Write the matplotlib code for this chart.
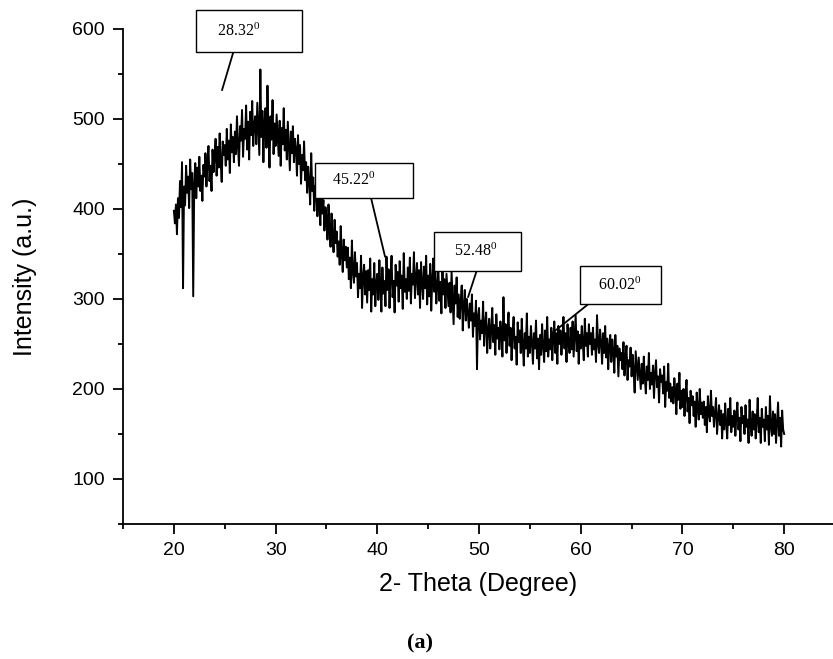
import numpy as np
import matplotlib
matplotlib.use("Agg")
import matplotlib.pyplot as plt
from matplotlib.ticker import MultipleLocator

plt.rcParams['font.family'] = ['Liberation Sans', 'DejaVu Sans']
plt.rcParams['mathtext.fontset'] = 'custom'
plt.rcParams['mathtext.rm'] = 'Liberation Serif'
plt.rcParams['mathtext.it'] = 'Liberation Serif'

# 2-theta scan from 20 to 80 degrees, step 0.1
two_theta = np.linspace(20, 80, 601)

intensity_20_30 = [
    398, 384, 405, 372, 412, 390, 431, 402, 452, 312,
    425, 404, 448, 418, 436, 401, 455, 422, 440, 303,
    428, 451, 412, 446, 425, 458, 420, 437, 409, 449,
    436, 462, 425, 452, 470, 431, 448, 420, 466, 441,
    458, 478, 437, 469, 446, 484, 452, 430, 475, 460,
    471, 448, 489, 455, 476, 440, 494, 463, 480, 452,
    486, 461, 503, 470, 448, 492, 476, 510, 458, 489,
    478, 515, 466, 497, 455, 508, 482, 520, 470, 494,
    503, 472, 518, 488, 460, 555, 480, 509, 452, 497,
    512, 468, 537, 484, 446, 503, 477, 521, 461, 495,
]
intensity_30_40 = [
    470, 505, 482, 459, 498, 448, 490, 472, 512, 465,
    488, 455, 497, 470, 443, 486, 462, 492, 452, 478,
    466, 437, 482, 450, 471, 428, 460, 443, 475, 432,
    452, 418, 447, 430, 405, 462, 420, 435, 398, 426,
    418, 392, 436, 400, 382, 421, 395, 410, 376, 402,
    390, 366, 405, 378, 358, 395, 370, 352, 388, 362,
    375, 347, 364, 338, 381, 352, 330, 366, 343, 358,
    335, 357, 322, 346, 312, 365, 330, 318, 352, 325,
    340, 302, 328, 312, 348, 290, 325, 338, 305, 331,
    296, 332, 310, 345, 286, 322, 305, 340, 292, 318,
]
intensity_40_50 = [
    328, 299, 343, 312, 286, 335, 306, 320, 292, 347,
    310, 333, 290, 325, 348, 302, 320, 285, 338, 315,
    330, 297, 342, 312, 326, 289, 351, 308, 322, 300,
    335, 309, 346, 295, 328, 316, 352, 301, 323, 340,
    305, 332, 290, 341, 318, 300, 336, 312, 348, 294,
    326, 303, 339, 287, 321, 345, 308, 330, 295, 317,
    333, 298, 319, 284, 341, 305, 322, 290, 328, 310,
    292, 318, 285, 330, 300, 272, 315, 295, 324, 280,
    305, 278, 298, 315, 265, 292, 310, 276, 300, 285,
    268, 295, 276, 305, 258, 284, 270, 298, 222, 281,
]
intensity_50_60 = [
    290, 255, 276, 262, 297, 248, 272, 285, 240, 266,
    278, 245, 266, 290, 252, 271, 238, 283, 256, 268,
    244, 275, 260, 236, 302, 254, 272, 240, 266, 285,
    248, 268, 232, 262, 280, 245, 258, 227, 274, 252,
    265, 240, 278, 250, 226, 262, 245, 284, 236, 258,
    240, 270, 252, 228, 262, 245, 276, 234, 256, 222,
    260, 238, 272, 248, 230, 265, 242, 280, 236, 255,
    244, 268, 232, 258, 275, 240, 262, 228, 270, 250,
    265, 238, 256, 280, 245, 262, 230, 272, 250, 240,
    268, 244, 275, 236, 258, 282, 242, 264, 228, 260,
]
intensity_60_70 = [
    245, 270, 252, 232, 278, 248, 262, 236, 272, 250,
    262, 238, 268, 244, 255, 230, 282, 250, 240, 266,
    252, 228, 262, 240, 270, 235, 256, 222, 248, 260,
    230, 255, 242, 218, 260, 236, 248, 214, 245, 232,
    240, 222, 252, 215, 236, 248, 210, 232, 225, 246,
    214, 238, 220, 196, 242, 226, 210, 235, 218, 200,
    228, 206, 236, 212, 195, 225, 210, 240, 200, 218,
    205, 226, 190, 218, 232, 202, 214, 185, 222, 208,
    215, 195, 225, 180, 208, 198, 228, 190, 206, 186,
    202, 184, 212, 196, 172, 206, 188, 218, 178, 198,
]
intensity_70_80 = [
    180, 200, 170, 194, 210, 175, 190, 162, 198, 182,
    192, 170, 186, 158, 196, 178, 166, 200, 172, 185,
    168, 186, 160, 180, 152, 192, 172, 164, 198, 170,
    180, 158, 174, 190, 150, 168, 182, 160, 176, 145,
    172, 155, 184, 162, 145, 178, 160, 190, 152, 170,
    158, 176, 148, 170, 185, 155, 168, 142, 180, 162,
    170, 150, 182, 158, 166, 140, 188, 160, 148, 175,
    155, 172, 145, 165, 190, 152, 168, 140, 178, 158,
    166, 142, 180, 155, 170, 138, 192, 158, 148, 175,
    150, 172, 140, 162, 185, 148, 168, 136, 176, 155,
    150,
]

intensity = np.array(intensity_20_30 + intensity_30_40 + intensity_40_50 +
                     intensity_50_60 + intensity_60_70 + intensity_70_80)

# peak labels
peak_labels = ["28.32", "45.22", "52.48", "60.02"]
peak_points = [(24.73, 532), (40.76, 347), (48.92, 302), (57.18, 262)]

x_ticks = [20, 30, 40, 50, 60, 70, 80]
y_ticks = [100, 200, 300, 400, 500, 600]

fig = plt.figure(figsize=(8.33, 6.59), dpi=100)
ax = fig.add_axes([0.1477, 0.2049, 0.8523, 0.7511])

ax.plot(two_theta, intensity, color='black', lw=1.4)

ax.set_xlim(15, 84.8)
ax.set_ylim(50, 600)
ax.set_xticks(x_ticks)
ax.set_yticks(y_ticks)
ax.xaxis.set_minor_locator(MultipleLocator(5))
ax.yaxis.set_minor_locator(MultipleLocator(50))

for s in ['top', 'right']:
    ax.spines[s].set_visible(False)
for s in ['left', 'bottom']:
    ax.spines[s].set_linewidth(1.3)
ax.tick_params(which='major', direction='out', length=7.5, width=1.3,
               labelsize=14, pad=5.5)
ax.tick_params(which='minor', direction='out', length=3.5, width=1.3)

ax.set_xlabel("2- Theta (Degree)", fontsize=18)
ax.set_ylabel("Intensity (a.u.)", fontsize=18)
ax.xaxis.set_label_coords(0.5, -0.097)
ax.yaxis.set_label_coords(-0.121, 0.5)

# annotation boxes: (text center in data, relpos of leader start, left/right spaces, pad)
box_centers = [(27.39, 597.8), (38.70, 431.7), (49.86, 352.8), (63.87, 315.6)]
box_relpos = [0.35, 0.56, 0.54, 0.19]
box_spaces = [(2, 8), (2, 8), (2, 4), (2, 3)]
box_pads = [0.8, 0.55, 0.7, 0.65]

for lab, pt, c, rp, sp, pd in zip(peak_labels, peak_points, box_centers,
                                  box_relpos, box_spaces, box_pads):
    txt = " " * sp[0] + lab + r"$^{0}$" + " " * sp[1]
    ax.annotate(txt, xy=pt, xytext=c, xycoords='data', textcoords='data',
                ha='center', va='center', fontsize=11.5,
                family=['Liberation Serif', 'DejaVu Serif'],
                bbox=dict(boxstyle=f'square,pad={pd}', fc='white', ec='black', lw=1.0),
                arrowprops=dict(arrowstyle='-', color='black', lw=1.3,
                                relpos=(rp, 0), shrinkA=0, shrinkB=0),
                annotation_clip=False)

fig.text(420 / 833, 1 - 643 / 659, "(a)", ha='center', va='center',
         fontsize=16, fontweight='bold', family=['Liberation Serif', 'DejaVu Serif'])

fig.savefig("out.png", dpi=100)
